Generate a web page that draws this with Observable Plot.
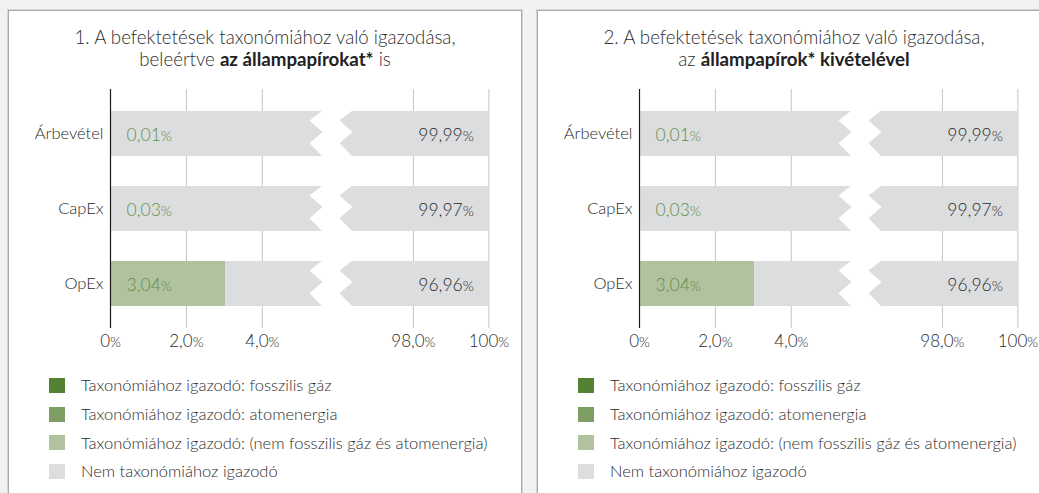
<!DOCTYPE html>
<html><head><meta charset="utf-8">
<script src="https://cdn.jsdelivr.net/npm/d3@7"></script>
<script src="https://cdn.jsdelivr.net/npm/@observablehq/plot@0.6"></script>
<style>
body{margin:0;background:#f1f2f4;width:1039px;height:493px;overflow:hidden;position:relative;font-family:Lato,"Open Sans",sans-serif;font-weight:300;color:#2e2e2e}
.card{position:absolute;top:10px;width:512px;height:500px;background:#fff;border:1px solid #a9a9a9;box-shadow:0 0 0 1px #d6d6d6}
.title{position:absolute;top:26px;width:514px;text-align:center;font-size:18.7px;line-height:22px}
.title b{font-weight:700;color:#222}
.legend{position:absolute;top:371px;font-size:16.5px;white-space:nowrap}
.row{height:28.7px;display:flex;align-items:center}
.sw{width:16px;height:15px;margin-right:16px}
.chart{position:absolute;top:0;width:530px;height:360px}
.chart svg{max-width:none !important}
</style></head><body>
<div class="card" style="left:8px"></div>
<div class="card" style="left:537px"></div>
<div id="root"></div>
<script>
const categories = ["Árbevétel", "CapEx", "OpEx"];
const seriesNames = [
  "Taxonómiához igazodó: fosszilis gáz",
  "Taxonómiához igazodó: atomenergia",
  "Taxonómiához igazodó: (nem fosszilis gáz és atomenergia)",
  "Nem taxonómiához igazodó"
];
const seriesColors = ["#548235", "#7f9e64", "#b1c29f", "#dcdddf"];
const fossilGas = [0, 0, 0];
const nuclear = [0, 0, 0];
const otherAligned = [0.01, 0.03, 3.04];
const notAligned = [99.99, 99.97, 96.96];
const alignedLabels = ["0,01%", "0,03%", "3,04%"];
const notAlignedLabels = ["99,99%", "99,97%", "96,96%"];
const tickValues = [0, 2, 4, 98, 100];
const tickLabels = ["0%", "2,0%", "4,0%", "98,0%", "100%"];
const breakDomain = [0, 5.6, 96.4, 100];
const titleLine1 = ["1. A befektetések taxonómiához való igazodása,", "2. A befektetések taxonómiához való igazodása,"];
const titleLine2 = ["beleértve <b>az állampapírokat*</b> is", "az <b>állampapírok* kivételével</b>"];

const series = [fossilGas, nuclear, otherAligned, notAligned];
const rows = [];
series.forEach((vals, si) => categories.forEach((c, ci) => rows.push({cat: c, series: seriesNames[si], value: vals[ci]})));

const root = document.getElementById("root");
const FONT = "Lato, 'Open Sans', sans-serif";
const textSizes = [16.5, 17.5, 17.5, 17];

function makeChart(offset, idx) {
  const plot = Plot.plot({
    width: 530, height: 360,
    marginTop: 89, marginBottom: 32, marginLeft: 110, marginRight: 41,
    style: {background: "transparent", overflow: "visible", fontFamily: FONT, fontWeight: 300},
    x: {type: "linear", domain: breakDomain, range: [110, 322.5, 352.5, 488.4], axis: null},
    y: {domain: categories, paddingInner: 0.4, paddingOuter: 0.29, axis: null},
    color: {domain: seriesNames, range: seriesColors},
    marks: [
      Plot.ruleX(tickValues.slice(1), {stroke: "#c4c4c4", strokeWidth: 1}),
      Plot.barX(rows, Plot.stackX({x: "value", y: "cat", fill: "series", order: seriesNames})),
      Plot.ruleX([0], {stroke: "#1a1a1a", strokeWidth: 1.2}),
      Plot.text(categories, {x: 0, y: d => d, text: d => d, textAnchor: "end", dx: -7, fill: "#2a2a2a"}),
      Plot.text(categories, {x: 0, y: d => d, text: (d, i) => alignedLabels[i], textAnchor: "start", dx: 16, dy: 1, fill: "#5e8f48"}),
      Plot.text(categories, {x: 100, y: d => d, text: (d, i) => notAlignedLabels[i], textAnchor: "end", dx: -15, dy: 1, fill: "#2a2a2a"}),
      Plot.text(tickValues, {x: d => d, text: (d, i) => tickLabels[i], frameAnchor: "bottom", dy: 18, fill: "#2a2a2a"})
    ]
  });
  const xs = plot.scale("x"), ys = plot.scale("y");
  const svg = d3.select(plot);
  const bw = ys.bandwidth;
  const xl = xs.apply(breakDomain[1]), xr = xs.apply(breakDomain[2]);
  const a = 13;
  const g = svg.insert("g", "g[aria-label=text]");
  categories.forEach(c => {
    const T = ys.apply(c) - 0.5, B = ys.apply(c) + bw + 0.5, h = B - T;
    const pts = [[xl, T], [xl - a, T + .22 * h], [xl, T + .47 * h], [xl - a, T + .71 * h], [xl, B],
                 [xr, B], [xr - a, T + .71 * h], [xr, T + .47 * h], [xr - a, T + .22 * h], [xr, T]];
    g.append("path").attr("d", "M" + pts.map(p => p.join(",")).join("L") + "Z").attr("fill", "#fff");
  });
  svg.selectAll("g[aria-label=text]").nodes().forEach((node, i) => {
    d3.select(node).selectAll("text")
      .attr("font-size", textSizes[i]).style("font-size", textSizes[i] + "px")
      .style("font-family", FONT).style("font-weight", 300);
  });
  svg.selectAll("text").each(function () {
    const t = this.textContent;
    if (t.endsWith("%")) {
      this.textContent = t.slice(0, -1);
      d3.select(this).append("tspan").attr("font-size", "0.82em").style("font-size", "0.82em").text("%");
    }
  });
  const wrap = document.createElement("div");
  wrap.className = "chart";
  wrap.style.left = offset + "px";
  wrap.appendChild(plot);
  root.appendChild(wrap);

  const title = document.createElement("div");
  title.className = "title";
  title.style.left = (8 + offset) + "px";
  title.innerHTML = titleLine1[idx] + "<br>" + titleLine2[idx];
  root.appendChild(title);

  const legend = document.createElement("div");
  legend.className = "legend";
  legend.style.left = (49 + offset) + "px";
  seriesNames.forEach((s, i) => {
    const r = document.createElement("div");
    r.className = "row";
    r.innerHTML = `<div class="sw" style="background:${seriesColors[i]}"></div><span>${s}</span>`;
    legend.appendChild(r);
  });
  root.appendChild(legend);
}
makeChart(0, 0);
makeChart(529, 1);
</script>
</body></html>
